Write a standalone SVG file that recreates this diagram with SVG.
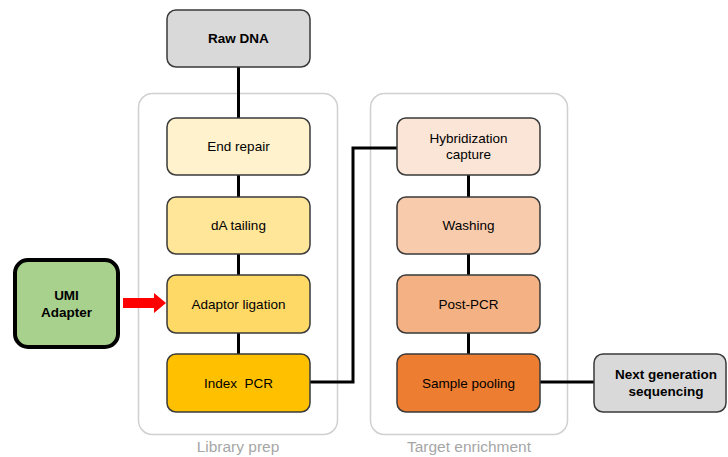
<svg xmlns="http://www.w3.org/2000/svg" width="728" height="457" viewBox="0 0 728 457">
<defs>
<style>
text{font-family:"Liberation Sans",Arial,sans-serif;font-size:13.5px;fill:#000;text-anchor:middle}
.b{font-weight:bold}
.box{stroke:#3a3a3a;stroke-width:1.5}
.grp{fill:none;stroke:#d0d0d0;stroke-width:1.5}
.gl{fill:#a6a6a6;font-size:15.5px}
.c{fill:none;stroke:#000;stroke-width:3}
</style>
</defs>
<rect width="728" height="457" fill="#fff"/>
<g id="library-prep"><rect class="grp" x="138.5" y="93.5" width="199" height="341" rx="14"/><text class="gl" x="238" y="452">Library prep</text></g>
<g id="target-enrichment"><rect class="grp" x="370.5" y="93.5" width="197" height="341" rx="14"/><text class="gl" x="469" y="452">Target enrichment</text></g>
<g id="connectors">
<path class="c" d="M238.5 67V118M238.5 175V197M238.5 254V275M238.5 333V354"/>
<path class="c" d="M468.5 175V197M468.5 254V275M468.5 333V354"/>
<path class="c" d="M310 382H353V148H397"/>
<path class="c" d="M540 382H594"/>
<path d="M123 298H154V293L166 303L154 313V308H123Z" fill="#ff0000"/>
</g>
<g id="raw-dna"><rect class="box" x="167" y="10" width="143" height="57" rx="9" fill="#d9d9d9"/><text class="b" x="238.5" y="43">Raw DNA</text></g>
<g id="end-repair"><rect class="box" x="167" y="118" width="143" height="57" rx="9" fill="#fff2cc"/><text x="238.5" y="151">End repair</text></g>
<g id="da-tailing"><rect class="box" x="167" y="197" width="143" height="57" rx="9" fill="#ffe699"/><text x="238.5" y="230">dA tailing</text></g>
<g id="adaptor-ligation"><rect class="box" x="167" y="275" width="143" height="58" rx="9" fill="#ffd966"/><text x="238.5" y="309">Adaptor ligation</text></g>
<g id="index-pcr"><rect class="box" x="167" y="354" width="143" height="58" rx="9" fill="#ffc000"/><text x="238.5" y="388" xml:space="preserve">Index  PCR</text></g>
<g id="umi-adapter"><rect x="15" y="260" width="103" height="87" rx="13" fill="#a9d18e" stroke="#000" stroke-width="4"/><text class="b" x="66.5" y="300">UMI</text><text class="b" x="66.5" y="317">Adapter</text></g>
<g id="hybridization"><rect class="box" x="397" y="118" width="143" height="57" rx="9" fill="#fbe5d6"/><text x="468.5" y="143">Hybridization</text><text x="468.5" y="159">capture</text></g>
<g id="washing"><rect class="box" x="397" y="197" width="143" height="57" rx="9" fill="#f8cbad"/><text x="468.5" y="230">Washing</text></g>
<g id="post-pcr"><rect class="box" x="397" y="275" width="143" height="58" rx="9" fill="#f4b183"/><text x="468.5" y="309">Post-PCR</text></g>
<g id="sample-pooling"><rect class="box" x="397" y="354" width="143" height="58" rx="9" fill="#ed7d31"/><text x="468.5" y="388">Sample pooling</text></g>
<g id="ngs"><rect class="box" x="594" y="354" width="132" height="58" rx="9" fill="#d9d9d9"/><text class="b" x="666" y="379">Next generation</text><text class="b" x="666" y="396">sequencing</text></g>
</svg>
